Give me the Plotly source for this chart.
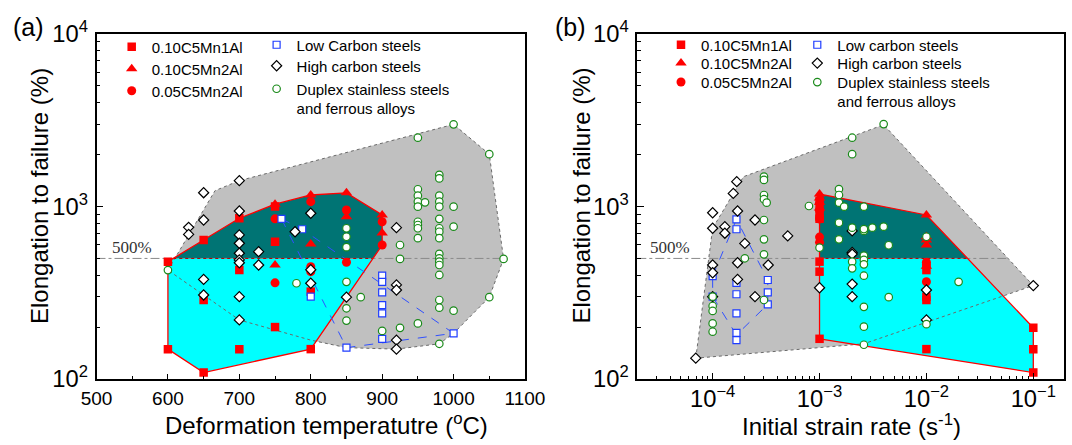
import numpy as np
import plotly.graph_objects as go

W, H = 1072, 445
FONT = "Arial, Liberation Sans, sans-serif"

# ---------------- panel (a): deformation temperature (degC) ----------------
a_mn1_T = [600, 600, 650, 650, 650, 700, 700, 700, 750, 750, 750, 800, 800]
a_mn1_E = [479, 149, 640, 287, 109, 855, 428, 149, 999, 625, 200, 321, 149]
a_mn2_T = [750, 750, 800, 800, 850, 850, 900, 900]
a_mn2_E = [1031, 458, 1166, 607, 1200, 873, 893, 702]
a_c05_T = [750, 750, 800, 800, 800, 850, 850, 900, 900]
a_c05_E = [848, 361, 1067, 448, 419, 955, 475, 816, 598]
a_low_T = [759, 788, 800, 850, 900, 900, 900, 900, 900, 900, 1000]
a_low_E = [848, 738, 300, 152, 397, 366, 318, 268, 240, 171, 184]
a_high_T = [629, 629, 650, 650, 650, 650, 700, 700, 700, 700, 700, 700, 700, 700, 700,
            727, 727, 778, 800, 800, 800, 850, 920, 920, 920, 920, 920]
a_high_E = [757, 689, 1202, 835, 378, 307, 1412, 942, 684, 612, 536, 490, 472, 300, 220,
            547, 458, 714, 914, 430, 359, 298, 754, 351, 328, 168, 149]
a_dup_T = [600, 780, 850, 850, 850, 850, 850, 850, 870, 900, 925, 925, 925,
           950, 950, 950, 950, 950, 950, 950, 950, 950, 950, 960,
           980, 980, 980, 980, 980, 980, 980, 980, 980, 980, 980, 980, 980, 980, 980, 980, 980,
           1000, 1000, 1000, 1000, 1050, 1050, 1070]
a_dup_E = [428, 359, 748, 668, 581, 366, 257, 218, 298, 190, 598, 497, 198,
           2505, 1259, 1156, 1067, 998, 816, 781, 748, 655, 210, 1057,
           1524, 1455, 1156, 1067, 998, 848, 748, 714, 655, 531, 501, 479, 458, 401, 287, 259, 160,
           2993, 998, 764, 249, 2010, 298, 497]
# envelope of literature data (grey region) and low-carbon envelope (blue dashed)
a_env_T = [600, 666, 700, 1000, 1050, 1070, 1050, 1000, 980, 920, 850, 800, 700, 650, 600]
a_env_E = [428, 1236, 1412, 2993, 2010, 497, 298, 184, 160, 149, 152, 168, 220, 307, 428]
a_lowenv_T = [759, 788, 1000, 850, 759]
a_lowenv_E = [848, 738, 184, 152, 848]
a_ref_T = [500, 1070]

# ---------------- panel (b): initial strain rate (1/s) ----------------
b_mn1_R = [1e-3] * 7 + [1e-2] * 4 + [1e-1] * 3
b_mn1_E = [1080, 1010, 900, 850, 479, 419, 171, 428, 300, 287, 149, 198, 149, 109]
b_mn2_R = [1e-3] * 4 + [1e-2] * 5
b_mn2_E = [1180, 1120, 1060, 980, 893, 668, 640, 598, 450]
b_c05_R = [1e-3] * 4 + [1e-2] * 3
b_c05_E = [950, 845, 665, 620, 475, 458, 366]
b_low_R = [1e-4, 1e-4, 1.67e-4, 1.67e-4, 1.67e-4, 1.67e-4, 1.67e-4, 1.67e-4, 1.67e-4,
           3.28e-4, 3.28e-4, 3.28e-4]
b_low_E = [395, 300, 843, 738, 361, 310, 240, 185, 168, 375, 318, 271]
b_high_R = [6.95e-5, 1e-4, 1e-4, 1.3e-4, 1.3e-4, 1e-4, 1e-4, 1e-4, 1.68e-4, 1.56e-4, 1.71e-4,
            1.71e-4, 1.71e-4, 2e-4, 2.49e-4, 2.49e-4, 3.31e-4, 5.04e-4, 1e-3,
            2.02e-3, 2.02e-3, 2.02e-3, 2.02e-3, 2.02e-3, 1e-2, 1e-2, 1e-1]
b_high_E = [132, 920, 748, 764, 700, 458, 413, 300, 1393, 1191, 942,
            472, 378, 611, 835, 300, 458, 675, 338,
            722, 542, 530, 355, 300, 328, 220, 348]
b_dup_R = [1e-4, 1e-4, 1e-4, 1e-4, 1e-4, 2e-4,
           3.02e-4, 3.02e-4, 3.02e-4, 3.02e-4, 3.2e-4, 3.02e-4, 3.02e-4, 3.02e-4, 3.02e-4,
           7.96e-4, 1e-3, 1.52e-3, 1.52e-3, 1.52e-3, 1.7e-3, 1.52e-3, 1.52e-3,
           2.02e-3, 2.02e-3, 2.02e-3, 2.02e-3, 2.02e-3,
           2.6e-3, 2.6e-3, 2.6e-3, 2.6e-3, 2.6e-3, 2.6e-3, 2.6e-3, 2.6e-3, 2.6e-3, 2.6e-3,
           3.12e-3, 3.98e-3, 3.98e-3, 4.44e-3, 4.44e-3, 1e-2, 1e-2, 2e-2]
b_dup_E = [300, 265, 248, 210, 188, 501,
           1490, 1426, 1166, 1102, 1052, 835, 645, 528, 287,
           1007, 577, 1262, 1166, 1052, 998, 805, 645,
           2505, 2010, 754, 479, 438,
           998, 722, 740, 519, 490, 462, 397, 262, 201, 158,
           754, 3006, 764, 596, 298, 668, 208, 366]
b_env_R = [6.95e-5, 1e-4, 1.94e-4, 3.98e-3, 1e-1, 2.6e-3, 6.95e-5]
b_env_E = [132, 748, 1488, 2979, 348, 160, 132]
b_lowenv_R = [1e-4, 1.67e-4, 3.28e-4, 3.28e-4, 1.67e-4, 1e-4, 1e-4]
b_lowenv_E = [395, 843, 375, 271, 180, 300, 395]
b_ref_R = [10 ** -4.705, 10 ** -1.23]

LEVEL = 500  # superplastic threshold (%)

legend_names = ["0.10C5Mn1Al", "0.10C5Mn2Al", "0.05C5Mn2Al"]
lit_names_a = ["Low Carbon steels", "High carbon steels", "Duplex stainless steels<br>and ferrous alloys"]
lit_names_b = ["Low carbon steels", "High carbon steels", "Duplex stainless steels<br>and ferrous alloys"]

RED = "#ff0000"
TEAL = "#007474"
CYAN = "#00ffff"
GREY = "#c0c0c0"


def hull(pts):
    pts = sorted(set(pts))
    def cross(o, a, b):
        return (a[0] - o[0]) * (b[1] - o[1]) - (a[1] - o[1]) * (b[0] - o[0])
    lower, upper = [], []
    for p in pts:
        while len(lower) >= 2 and cross(lower[-2], lower[-1], p) <= 0:
            lower.pop()
        lower.append(p)
    for p in reversed(pts):
        while len(upper) >= 2 and cross(upper[-2], upper[-1], p) <= 0:
            upper.pop()
        upper.append(p)
    return lower[:-1] + upper[:-1]


def clip(poly, level, above):
    out = []
    n = len(poly)
    for i in range(n):
        p, q = poly[i], poly[(i + 1) % n]
        pin = p[1] >= level if above else p[1] <= level
        qin = q[1] >= level if above else q[1] <= level
        if pin:
            out.append(p)
        if pin != qin:
            t = (level - p[1]) / (q[1] - p[1])
            out.append((p[0] + t * (q[0] - p[0]), level))
    return out


fig = go.Figure()


def add_panel(xa, ya, logx, groups, lit, env, lowenv, refx, legs, names_lit):
    fx = (lambda v: np.log10(v)) if logx else (lambda v: np.asarray(v, float))
    bx = (lambda v: 10 ** np.asarray(v)) if logx else (lambda v: np.asarray(v))
    fig.add_trace(go.Scatter(x=env[0], y=env[1], xaxis=xa, yaxis=ya, mode="lines",
                             fill="toself", fillcolor=GREY, line=dict(width=0),
                             showlegend=False, hoverinfo="skip"))
    pts = []
    for gx, gy in groups:
        pts += list(zip(fx(gx).tolist(), np.log10(gy).tolist()))
    hp = hull(pts)
    lv = np.log10(LEVEL)
    for above, col in [(True, TEAL), (False, CYAN)]:
        cp = clip(hp, lv, above)
        cx = [c[0] for c in cp] + [cp[0][0]]
        cy = [c[1] for c in cp] + [cp[0][1]]
        fig.add_trace(go.Scatter(x=bx(cx), y=10 ** np.array(cy), xaxis=xa, yaxis=ya,
                                 mode="lines", fill="toself", fillcolor=col,
                                 line=dict(width=0), showlegend=False, hoverinfo="skip"))
    top = clip(hp, lv, True)
    on = sorted(c[0] for c in top if abs(c[1] - lv) < 1e-9)
    fig.add_trace(go.Scatter(x=env[0], y=env[1], xaxis=xa, yaxis=ya, mode="lines",
                             line=dict(color="#6a6a6a", width=1, dash="dot"),
                             showlegend=False, hoverinfo="skip"))
    fig.add_trace(go.Scatter(x=refx, y=[LEVEL, LEVEL], xaxis=xa, yaxis=ya, mode="lines",
                             line=dict(color="#8a8a8a", width=1, dash="dashdot"),
                             showlegend=False, hoverinfo="skip"))
    fig.add_trace(go.Scatter(x=bx([on[0], on[-1]]), y=[LEVEL, LEVEL], xaxis=xa, yaxis=ya,
                             mode="lines", line=dict(color="#b00000", width=1, dash="dot"),
                             showlegend=False, hoverinfo="skip"))
    hx = [c[0] for c in hp] + [hp[0][0]]
    hy = [c[1] for c in hp] + [hp[0][1]]
    fig.add_trace(go.Scatter(x=bx(hx), y=10 ** np.array(hy), xaxis=xa, yaxis=ya, mode="lines",
                             line=dict(color=RED, width=1.3), showlegend=False, hoverinfo="skip"))
    fig.add_trace(go.Scatter(x=lowenv[0], y=lowenv[1], xaxis=xa, yaxis=ya, mode="lines",
                             line=dict(color="#3050ff", width=1, dash="dash"),
                             showlegend=False, hoverinfo="skip"))
    syms = [("square", 8.5), ("triangle-up", 10), ("circle", 9)]
    for (gx, gy), (s, sz), nm, lg in zip(groups, syms, legend_names, legs[:3]):
        fig.add_trace(go.Scatter(x=gx, y=gy, xaxis=xa, yaxis=ya, mode="markers", name=nm,
                                 legend=lg,
                                 marker=dict(symbol=s, size=sz, color=RED, line=dict(width=0))))
    styles = [("square", 7, "#1e3cff"), ("diamond", 7.8, "#000000"), ("circle", 7.5, "#1a8a1a")]
    for (gx, gy), (s, sz, c), nm, lg in zip(lit, styles, names_lit, legs[3:]):
        fig.add_trace(go.Scatter(x=gx, y=gy, xaxis=xa, yaxis=ya, mode="markers", name=nm,
                                 legend=lg,
                                 marker=dict(symbol=s, size=sz, color="white",
                                             line=dict(width=1.2, color=c))))


legs_a = ["legend", "legend2", "legend3", "legend4", "legend5", "legend6"]
legs_b = ["legend7", "legend8", "legend9", "legend10", "legend11", "legend12"]
add_panel("x", "y", False,
          [(a_mn1_T, a_mn1_E), (a_mn2_T, a_mn2_E), (a_c05_T, a_c05_E)],
          [(a_low_T, a_low_E), (a_high_T, a_high_E), (a_dup_T, a_dup_E)],
          (a_env_T, a_env_E), (a_lowenv_T, a_lowenv_E), a_ref_T, legs_a, lit_names_a)
add_panel("x2", "y2", True,
          [(b_mn1_R, b_mn1_E), (b_mn2_R, b_mn2_E), (b_c05_R, b_c05_E)],
          [(b_low_R, b_low_E), (b_high_R, b_high_E), (b_dup_R, b_dup_E)],
          (b_env_R, b_env_E), (b_lowenv_R, b_lowenv_E), b_ref_R, legs_b, lit_names_b)


def px(x):
    return x / W


def py(y):
    return 1 - y / H


axis_common = dict(showline=True, linecolor="black", linewidth=1.6, mirror=True,
                   ticks="inside", tickcolor="black", tickwidth=1.2, showgrid=False,
                   zeroline=False, automargin=False,
                   tickfont=dict(family=FONT, size=19, color="black"))

ydom = [py(379), py(34)]
fig.update_layout(
    width=W, height=H, margin=dict(l=0, r=0, t=0, b=0, autoexpand=False),
    paper_bgcolor="white", plot_bgcolor="white",
    font=dict(family=FONT, color="black"),
    xaxis=dict(domain=[px(96.5), px(525)], range=[500, 1100], dtick=100, ticklen=5,
               minor=dict(ticks="inside", ticklen=3, dtick=50, tickcolor="black"),
               anchor="y", ticklabelstandoff=1, **axis_common),
    yaxis=dict(domain=ydom, type="log", range=[2, 4], dtick=1, exponentformat="power",
               ticklen=7, minor=dict(ticks="inside", ticklen=4, dtick="D1", tickcolor="black"),
               anchor="x", ticklabelstandoff=3, **axis_common),
    xaxis2=dict(domain=[px(637.3), px(1064.3)], type="log", range=[-4.705, -0.71], dtick=1,
                exponentformat="power", ticklen=6,
                minor=dict(ticks="inside", ticklen=3, dtick="D1", tickcolor="black"),
                anchor="y2", ticklabelstandoff=-1, **axis_common),
    yaxis2=dict(domain=ydom, type="log", range=[2, 4], dtick=1, exponentformat="power",
                ticklen=7, minor=dict(ticks="inside", ticklen=4, dtick="D1", tickcolor="black"),
                anchor="x2", ticklabelstandoff=3, **axis_common),
)

# legend entries: (text-start x, row-centre y) in pixels
leg_text_x_a = [151.7, 151.7, 151.7, 296.6, 296.6, 296.6]
leg_row_y_a = [47, 69, 91, 45, 66, 89]
leg_text_x_b = [701, 701, 701, 837.3, 837.3, 837.3]
leg_row_y_b = [45, 63.3, 82.3, 45, 63.3, 82.3]
leg_common = dict(xanchor="left", yanchor="top", bgcolor="rgba(0,0,0,0)", borderwidth=0,
                  font=dict(family=FONT, size=15, color="black"), valign="top",
                  itemclick=False, itemdoubleclick=False)
legend_layout = {}
for names, xs, ys in [(legs_a, leg_text_x_a, leg_row_y_a), (legs_b, leg_text_x_b, leg_row_y_b)]:
    for nm, xt, yr in zip(names, xs, ys):
        legend_layout[nm] = dict(x=px(xt - 40), y=py(yr - 16.5), **leg_common)
fig.update_layout(**legend_layout)

ann = []
ca = dict(xref="paper", yref="paper", showarrow=False, xanchor="center", yanchor="middle")
ann.append(dict(text="(a)", x=px(29), y=py(27), font=dict(family=FONT, size=25), **ca))
ann.append(dict(text="(b)", x=px(570), y=py(27), font=dict(family=FONT, size=25), **ca))
for xc in [39, 580.6]:
    ann.append(dict(text="Elongation to failure (%)", x=px(xc), y=py(196), textangle=-90,
                    font=dict(family=FONT, size=24), **ca))
ann.append(dict(text="Deformation temperatutre (<sup>o</sup>C)", x=px(326), y=py(424),
                font=dict(family=FONT, size=24), **ca))
ann.append(dict(text="Initial strain rate (s<sup>-1</sup>)", x=px(851), y=py(425),
                font=dict(family=FONT, size=24), **ca))
for xc in [132, 670]:
    ann.append(dict(text="500%", x=px(xc), y=py(248),
                    font=dict(family="Times New Roman, Liberation Serif, serif", size=17,
                              color="#333333"), **ca))
fig.update_layout(annotations=ann)

fig.write_html("out.html", post_script="document.body.style.margin='0';",
               config={"displayModeBar": False})
